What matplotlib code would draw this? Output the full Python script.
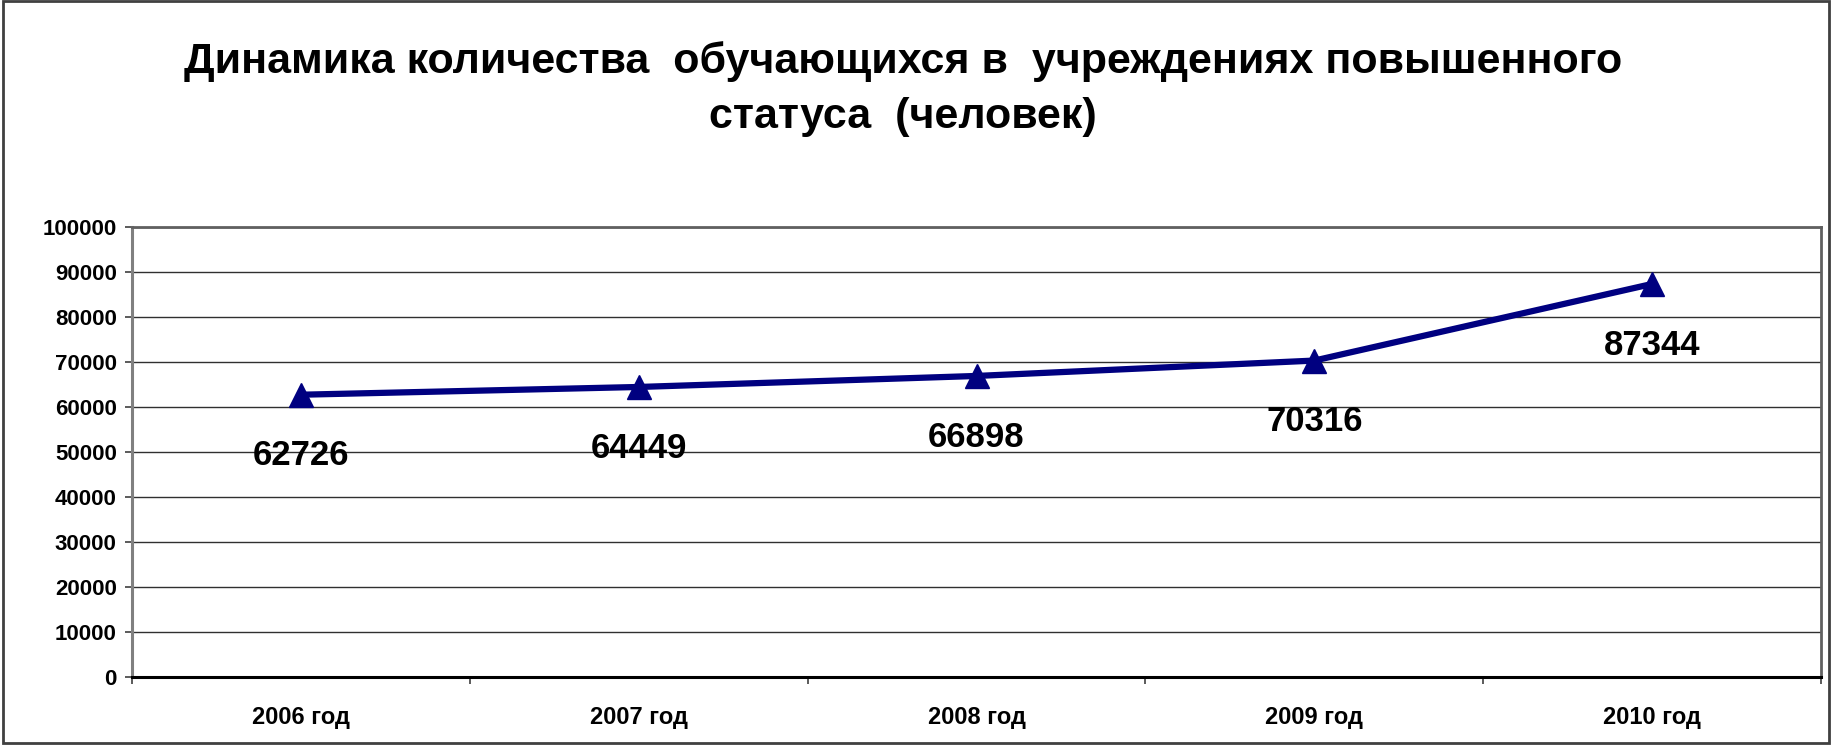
import matplotlib
matplotlib.use("Agg")
import matplotlib.pyplot as plt
from matplotlib.patches import Rectangle
from matplotlib.ticker import FixedLocator

matplotlib.rcParams.update({
    'font.family': ['Liberation Sans', 'DejaVu Sans'],
    'font.weight': 'bold',
})

years = ['2006 год', '2007 год', '2008 год', '2009 год', '2010 год']
students = [62726, 64449, 66898, 70316, 87344]
yticks = [0, 10000, 20000, 30000, 40000, 50000, 60000, 70000, 80000, 90000, 100000]
title1 = 'Динамика количества  обучающихся в  учреждениях повышенного'
title2 = 'статуса  (человек)'

fig = plt.figure(figsize=(18.34, 7.45), dpi=100)
ax = fig.add_axes([0.072, 0.0913, 0.9209, 0.604])

x = list(range(len(years)))
ax.plot(x, students, color='#000080', lw=4.5, marker='^', ms=17, zorder=3)
for xi, v in zip(x, students):
    ax.annotate(str(v), (xi, v), xytext=(0, -44), textcoords='offset points',
                ha='center', va='center', fontsize=25, fontweight='bold')

ax.set_xlim(-0.5, len(years) - 0.5)
ax.set_ylim(0, 100000)
ax.set_yticks(yticks)
ax.set_yticklabels([str(t) for t in yticks], fontsize=16, fontweight='bold')
ax.set_xticks(x)
ax.set_xticklabels(years, fontsize=17, fontweight='bold')
ax.xaxis.set_minor_locator(FixedLocator([i - 0.5 for i in range(len(years) + 1)]))
ax.tick_params(axis='x', which='major', length=0, pad=21)
ax.tick_params(axis='x', which='minor', length=5, width=1.2, color='#404040', direction='out')
ax.tick_params(axis='y', length=5, width=1.2, color='#404040', pad=6)

ax.grid(axis='y', color='#303030', lw=1)
ax.set_axisbelow(True)
ax.spines['left'].set_color('#808080')
ax.spines['left'].set_linewidth(2.2)
ax.spines['bottom'].set_color('black')
ax.spines['bottom'].set_linewidth(2.2)
ax.spines['top'].set_color('#606060')
ax.spines['top'].set_linewidth(2)
ax.spines['right'].set_color('#606060')
ax.spines['right'].set_linewidth(2)

fig.text(0.4924, 0.918, title1, ha='center', va='center', fontsize=31, fontweight='bold')
fig.text(0.4924, 0.843, title2, ha='center', va='center', fontsize=31, fontweight='bold')

fig.patches.append(Rectangle((0.0015, 0.003), 0.996, 0.995, transform=fig.transFigure,
                             fill=False, edgecolor='#404040', lw=2))

plt.savefig("out.png", dpi=100)
